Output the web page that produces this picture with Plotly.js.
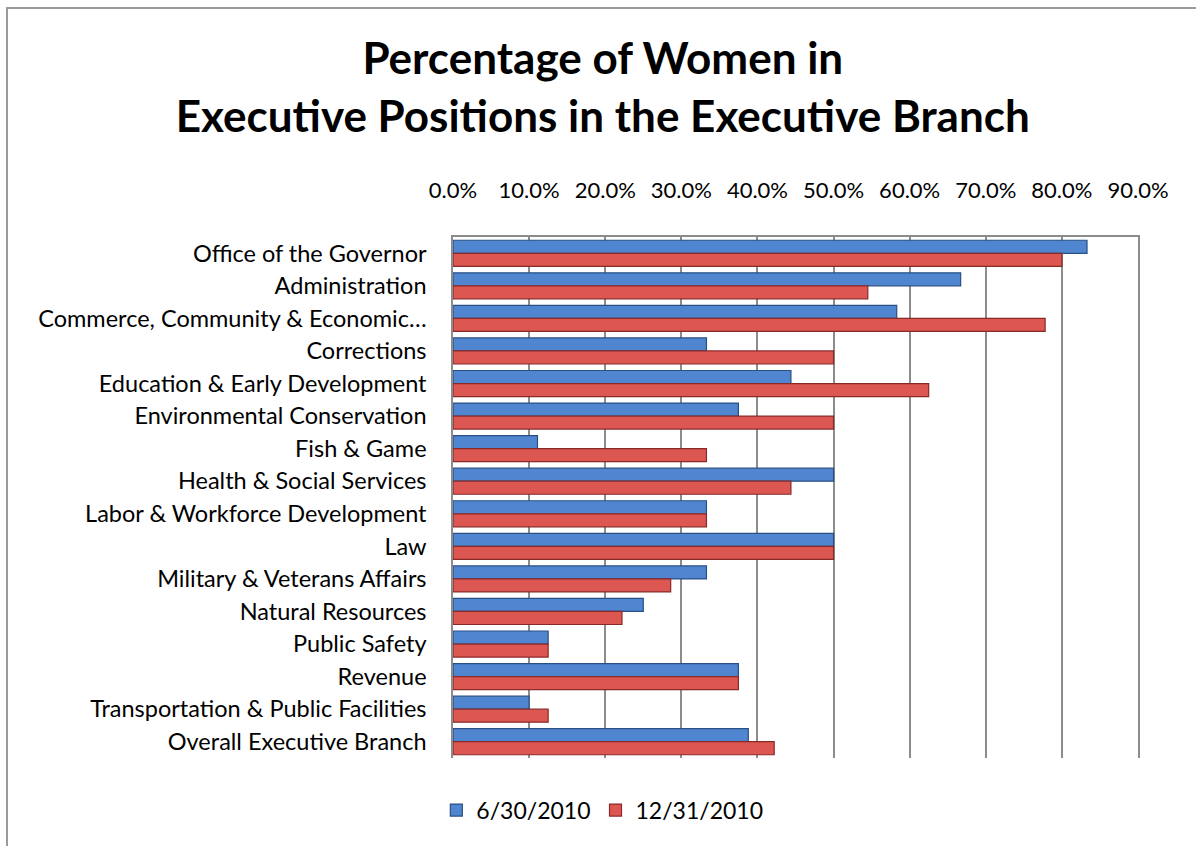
<!DOCTYPE html>
<html>
<head>
<meta charset="utf-8">
<script src="https://cdn.plot.ly/plotly-3.0.1.min.js"></script>
<style>
  html, body { margin: 0; padding: 0; background: #fff; }
  #wrap { position: relative; width: 1196px; height: 846px; overflow: hidden; }
  #chart { width: 1196px; height: 846px; }
  #frame { position: absolute; left: 6px; top: 7px; width: 1200px; height: 850px;
           border-left: 2px solid #9a9a9a; border-top: 2px solid #9a9a9a; pointer-events: none; }
</style>
</head>
<body>
<div id="wrap">
  <div id="chart"></div>
  <div id="frame"></div>
</div>
<script>
const categories = [
  "Office of the Governor",
  "Administration",
  "Commerce, Community & Economic…",
  "Corrections",
  "Education & Early Development",
  "Environmental Conservation",
  "Fish & Game",
  "Health & Social Services",
  "Labor & Workforce Development",
  "Law",
  "Military & Veterans Affairs",
  "Natural Resources",
  "Public Safety",
  "Revenue",
  "Transportation & Public Facilities",
  "Overall Executive Branch"
];
const series1Name = "6/30/2010";
const series2Name = "12/31/2010";
const june2010 = [0.833, 0.667, 0.583, 0.333, 0.444, 0.375, 0.111, 0.500, 0.333, 0.500, 0.333, 0.250, 0.125, 0.375, 0.100, 0.388];
const dec2010  = [0.800, 0.545, 0.778, 0.500, 0.625, 0.500, 0.333, 0.444, 0.333, 0.500, 0.286, 0.222, 0.125, 0.375, 0.125, 0.422];
const xTickVals = [0, 0.1, 0.2, 0.3, 0.4, 0.5, 0.6, 0.7, 0.8, 0.9];

const font = "Lato, 'Open Sans', sans-serif";

const traces = [
  {
    type: "bar", orientation: "h", name: series1Name,
    y: categories, x: june2010,
    marker: { color: "#4f86cf", line: { color: "#2a4f85", width: 1.2 } },
    hovertemplate: "%{y}: %{x:.1%}<extra>" + series1Name + "</extra>"
  },
  {
    type: "bar", orientation: "h", name: series2Name,
    y: categories, x: dec2010,
    marker: { color: "#dc5652", line: { color: "#8a2a28", width: 1.2 } },
    hovertemplate: "%{y}: %{x:.1%}<extra>" + series2Name + "</extra>"
  }
];

const layout = {
  width: 1196, height: 846,
  paper_bgcolor: "#ffffff", plot_bgcolor: "#ffffff",
  font: { family: font, color: "#000000", size: 22 },
  title: {
    text: "<b>Percentage of Women in<br>Executive Positions in the Executive Branch</b>",
    font: { family: font, size: 44, color: "#000000" },
    x: 0.504, xanchor: "center", xref: "container",
    y: 0.912, yanchor: "middle", yref: "container"
  },
  margin: { l: 453, r: 58, t: 237, b: 88 },
  barmode: "group",
  bargap: 0.2, bargroupgap: 0,
  xaxis: {
    side: "top", range: [0, 0.9], tickvals: xTickVals, tickformat: ".1%",
    showgrid: true, gridcolor: "#8c8c8c", gridwidth: 1.5,
    showline: true, linecolor: "#8c8c8c", linewidth: 1.5,
    zeroline: false, ticks: "", tickfont: { family: font, size: 22, color: "#000" },
    ticklabelstandoff: 28, fixedrange: true
  },
  yaxis: {
    type: "category", autorange: "reversed",
    showline: true, mirror: true, linecolor: "#8c8c8c", linewidth: 1.5,
    showgrid: false, ticks: "",
    tickfont: { family: font, size: 23.5, color: "#000" },
    ticklabelstandoff: 20, fixedrange: true
  },
  showlegend: true,
  legend: {
    orientation: "h", x: 0.218, xanchor: "center", xref: "paper",
    y: -0.1, yanchor: "middle",
    font: { family: font, size: 23, color: "#000" },
    itemwidth: 30, traceorder: "normal"
  }
};

Plotly.newPlot("chart", traces, layout, { displayModeBar: false, staticPlot: false });
</script>
</body>
</html>
